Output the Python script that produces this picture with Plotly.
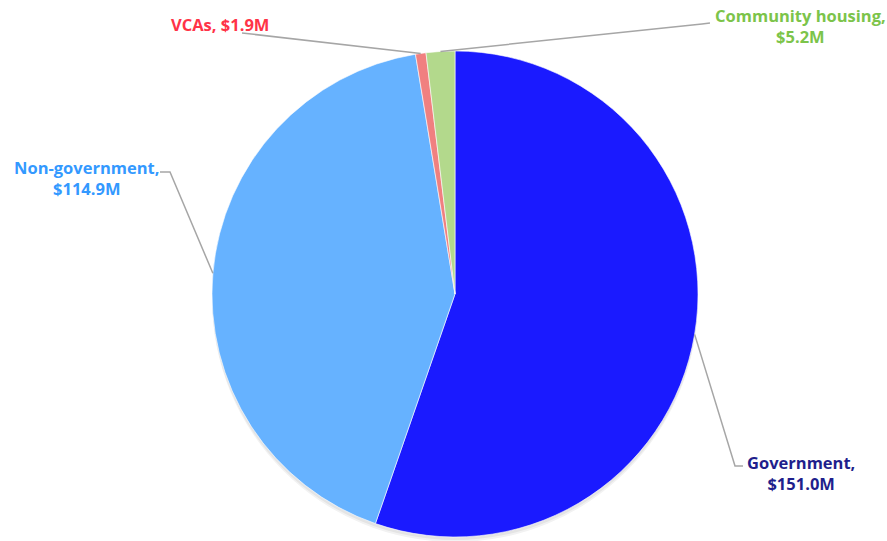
import math
import plotly.graph_objects as go

categories = ["Government", "Non-government", "VCAs", "Community housing"]
values = [151.0, 114.9, 1.9, 5.2]
value_labels = ["$151.0M", "$114.9M", "$1.9M", "$5.2M"]

slice_colors = ["#1a1aff", "#66b2ff", "#f08080", "#b3d98c"]
label_colors = ["#1f1f8c", "#3399ff", "#ff3347", "#7cc44a"]

W, H = 887, 541
# pie geometry in pixels
cx_px, cy_px, r_px = 455, 294, 243
dom_x = [(cx_px - r_px) / W, (cx_px + r_px) / W]
dom_y = [1 - (cy_px + r_px) / H, 1 - (cy_px - r_px) / H]

fig = go.Figure(go.Pie(
    labels=categories,
    values=values,
    sort=False,
    direction="clockwise",
    rotation=0,
    marker=dict(colors=slice_colors, line=dict(color="white", width=0.6)),
    textinfo="none",
    hoverinfo="label+value",
    showlegend=False,
    domain=dict(x=dom_x, y=dom_y),
))

# label placement (pixels): text centre, then leader bend/end points
label_layout = {
    "Government": dict(text_xy=(801, 473), two_lines=True, path=[(735, 466), (743, 466)]),
    "Non-government": dict(text_xy=(86, 178), two_lines=True, path=[(170, 172), (160, 172)]),
    "VCAs": dict(text_xy=(220, 24), two_lines=False, path=[(242, 33)]),
    "Community housing": dict(text_xy=(800, 26), two_lines=True, path=[(702, 24), (710, 23)]),
}


def circle_shape(dy, color):
    return dict(type="circle", xref="paper", yref="paper", layer="below",
                x0=(cx_px - r_px) / W, x1=(cx_px + r_px) / W,
                y0=1 - (cy_px + r_px + dy) / H, y1=1 - (cy_px - r_px + dy) / H,
                fillcolor=color, line=dict(width=0))


shapes = [circle_shape(5, "#f2f2f2"), circle_shape(3, "#e4e4e4")]
annotations = []
total = sum(values)
cum = 0.0
for cat, v, vl, lc in zip(categories, values, value_labels, label_colors):
    mid = (cum + v / 2) / total * 2 * math.pi
    cum += v
    ex = cx_px + r_px * math.sin(mid)
    ey = cy_px - r_px * math.cos(mid)
    cfg = label_layout[cat]
    pts = [(ex, ey)] + cfg["path"]
    d = "M " + " L ".join(f"{x / W:.5f},{1 - y / H:.5f}" for x, y in pts)
    shapes.append(dict(type="path", xref="paper", yref="paper", path=d,
                       line=dict(color="#a6a6a6", width=1.5)))
    txt = f"{cat},<br>{vl}" if cfg["two_lines"] else f"{cat}, {vl}"
    tx, ty = cfg["text_xy"]
    annotations.append(dict(
        x=tx / W, y=1 - ty / H, xref="paper", yref="paper",
        text=txt, showarrow=False, xanchor="center", yanchor="middle",
        align="center",
        font=dict(family="Open Sans", size=16.5, color=lc, weight="bold"),
    ))

fig.update_layout(
    width=W, height=H,
    margin=dict(l=0, r=0, t=0, b=0),
    paper_bgcolor="white",
    plot_bgcolor="white",
    shapes=shapes,
    annotations=annotations,
)

fig.write_html("out.html",
               config={"displayModeBar": False},
               post_script="document.body.style.margin='0';document.body.style.overflow='hidden';")
